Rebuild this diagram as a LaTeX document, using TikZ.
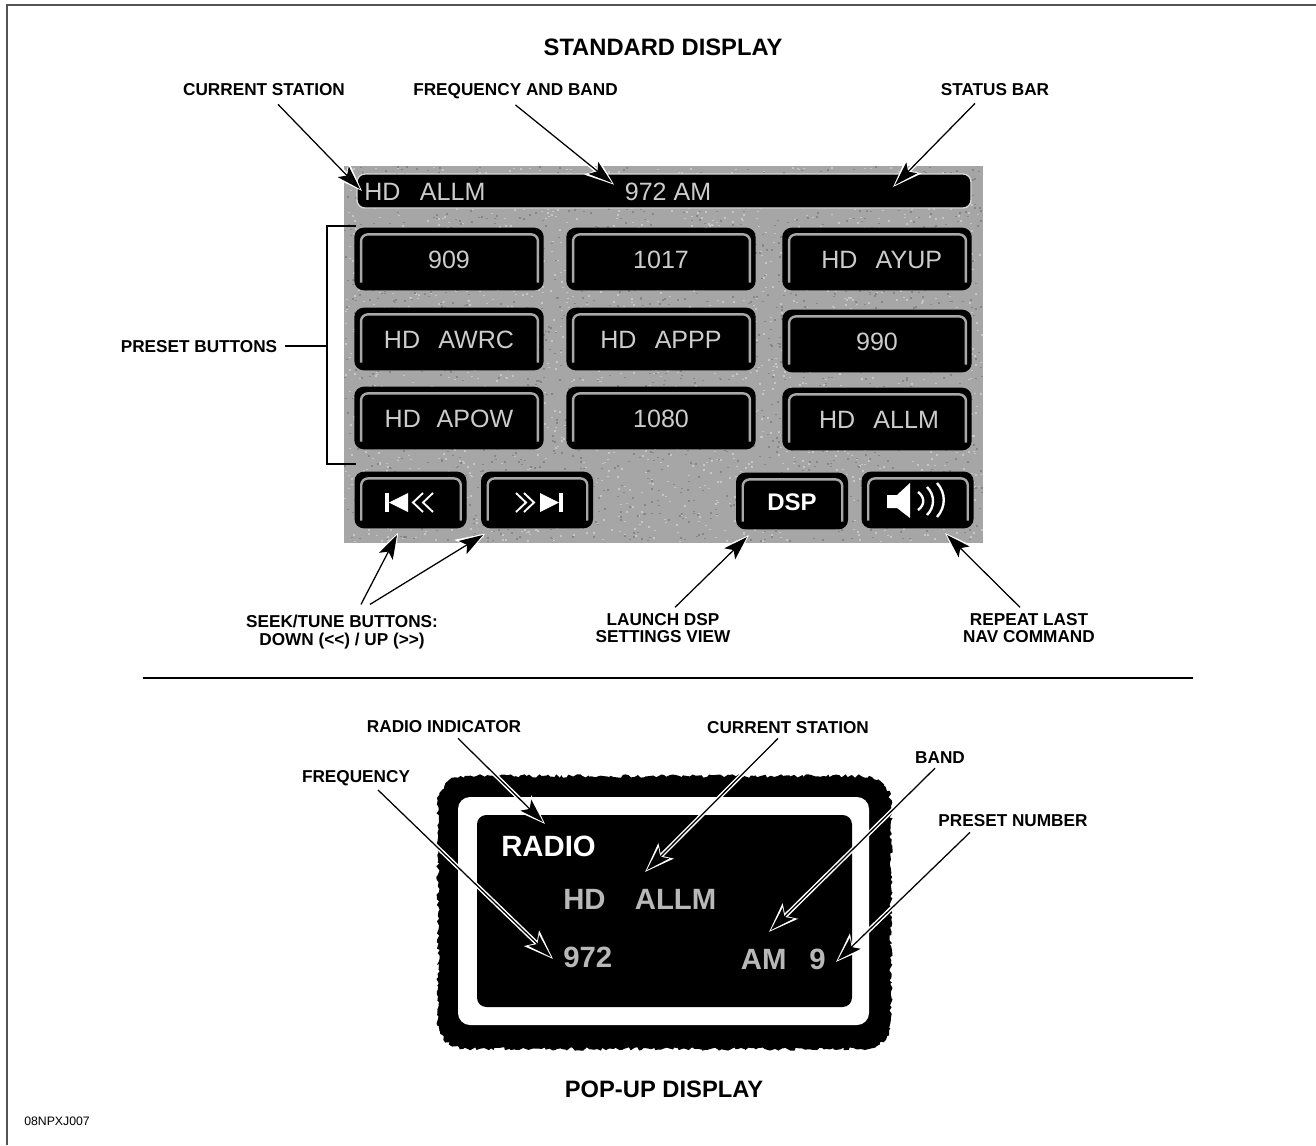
\documentclass[tikz,border=0pt]{standalone}
\usepackage{fontspec}
\setmainfont{Liberation Sans}
\usetikzlibrary{arrows.meta, calc, decorations.pathmorphing}
\tikzset{
	lbltext/.style={font=\fontsize{12.9}{14}\selectfont\bfseries, align=center, inner sep=0pt},
	titletext/.style={font=\fontsize{17.8}{20}\selectfont\bfseries, inner sep=0pt},
	codetext/.style={font=\fontsize{9.2}{11}\selectfont, inner sep=0pt}
}
\tikzset{
	btnbox/.style={fill=black, rounded corners=7pt, inner sep=0pt, text=btngray, text height=13.5pt, text depth=0pt,
		font=\fontsize{18.8}{20}\selectfont},
	presetbtn/.style={btnbox, minimum width=142pt, minimum height=47pt},
	smallbtn/.style={btnbox, minimum width=84pt, minimum height=42.5pt},
	btnlip/.style={draw=lipgray, line width=1.8pt, rounded corners=5pt},
	popuptext/.style={font=\fontsize{22}{24}\selectfont\bfseries, text=popgray, inner sep=0pt, text height=16pt, text depth=0pt}
}
\tikzset{
	callout/.style={line width=0.95pt, -{Stealth[length=18pt,width=11.5pt,inset=4pt]},
		preaction={draw=white, line width=3.2pt, shorten >=-2pt, -{Stealth[length=22pt,width=16pt,inset=5pt]}}},
	thinline/.style={line width=1.1pt},
	framerule/.style={draw=framegray, line width=1.5pt}
}
\definecolor{btngray}{gray}{0.80}
\definecolor{lipgray}{gray}{0.66}
\definecolor{popgray}{gray}{0.72}
\definecolor{panelgray}{gray}{0.65}
\definecolor{framegray}{gray}{0.33}
% draws the gray inner line of a button, open at the bottom
\newcommand{\btnedge}[1]{
	\draw[btnlip] ($(#1.south west)+(7,-8)$) -- ($(#1.north west)+(7,7)$) -- ($(#1.north east)+(-6,7)$) -- ($(#1.south east)+(-6,-8)$);
}
\begin{document}
\begin{tikzpicture}[x=0.75pt, y=-0.75pt]
	\useasboundingbox (0,0) rectangle (1316,1145);
	\draw[framerule] (7,1145) -- (7,5) -- (1316,5);

	\node[titletext] (titlestd) at (663,47) {STANDARD DISPLAY};
	\node[titletext] (titlepop) at (664,1089) {POP-UP DISPLAY};
	\node[codetext] (figcode) at (57,1121) {08NPXJ007};

	% gray panel with speckle
	\fill[panelgray] (344,166) rectangle (983,543);
	\pgfmathsetseed{42}
	\foreach \i in {1,...,1800}{
		\pgfmathsetmacro{\px}{344+rnd*637}
		\pgfmathsetmacro{\py}{166+rnd*375}
		\fill[gray!45] (\px,\py) rectangle ++(2,1.5);
	}
	\foreach \i in {1,...,1800}{
		\pgfmathsetmacro{\px}{344+rnd*637}
		\pgfmathsetmacro{\py}{166+rnd*375}
		\fill[gray!95] (\px,\py) rectangle ++(2,1.5);
	}

	% status bar
	\draw[fill=black, draw=gray!30, line width=1pt, rounded corners=6pt] (357,174) rectangle (971,208);
	\node[btnbox, fill=none, anchor=west, text=btngray] (barstation) at (364,191) {HD\hspace{0.5em} ALLM};
	\node[btnbox, fill=none, text=btngray] (barfreq) at (668,191) {972 AM};

	% preset buttons
	\node[presetbtn] (btnA) at (449,259) {909};
	\node[presetbtn] (btnB) at (661,259) {1017};
	\node[presetbtn] (btnC) at (877,259) {\hspace{7pt}HD\hspace{0.45em} AYUP};
	\node[presetbtn] (btnD) at (449,339) {HD\hspace{0.45em} AWRC\hspace{3pt}};
	\node[presetbtn] (btnE) at (661,339) {HD\hspace{0.45em} APPP};
	\node[presetbtn] (btnF) at (877,341) {990};
	\node[presetbtn] (btnG) at (449,418) {HD\hspace{0.35em} APOW};
	\node[presetbtn] (btnH) at (661,418) {1080};
	\node[presetbtn] (btnI) at (877,419) {\hspace{3pt}HD\hspace{0.45em} ALLM};
	\foreach \b in {btnA,btnB,btnC,btnD,btnE,btnF,btnG,btnH,btnI}{\btnedge{\b}}

	% bottom row
	\node[smallbtn] (btndown) at (410.5,500) {};
	\node[smallbtn] (btnup) at (537,500) {};
	\node[smallbtn, text=white, font=\fontsize{18}{20}\selectfont\bfseries] (btndsp) at (792,501) {DSP};
	\node[smallbtn] (btnspk) at (917.5,500) {};
	\foreach \b in {btndown,btnup,btndsp,btnspk}{\btnedge{\b}}

	% seek and speaker icons
	\fill[white] (385,493) rectangle (389,512);
	\fill[white] (389,502.5) -- (408,493) -- (408,512) -- cycle;
	\draw[white, line width=1.4pt] (423,493) -- (413,502.5) -- (423,512) (433,493) -- (423,502.5) -- (433,512);
	\draw[white, line width=1.4pt] (516,493) -- (526,502.5) -- (516,512) (524,493) -- (534,502.5) -- (524,512);
	\fill[white] (559,502.5) -- (540,493) -- (540,512) -- cycle;
	\fill[white] (559,493) rectangle (563,512);
	\fill[white] (887,495) -- (897,495) -- (910,483) -- (910,518) -- (897,508) -- (887,508) -- cycle;
	\draw[white, line width=1.8pt] (918,492) .. controls (925,497) and (925,505) .. (918,510);
	\draw[white, line width=1.8pt] (927,487) .. controls (935,495) and (935,507) .. (927,515);
	\draw[white, line width=1.8pt] (937,483) .. controls (946,493) and (946,507) .. (937,517);

	% pop-up display
	\pgfmathsetseed{7}
	\fill[black, decorate, decoration={random steps, segment length=2pt, amplitude=1.3pt}]
		(468,776) -- (861,776) .. controls (880,776) and (891,787) .. (891,806) -- (891,1019)
		.. controls (891,1038) and (880,1049) .. (861,1049) -- (468,1049)
		.. controls (449,1049) and (438,1038) .. (438,1019) -- (438,806)
		.. controls (438,787) and (449,776) .. (468,776) -- cycle;
	\fill[white, rounded corners=9pt] (458,797) rectangle (869,1025);
	\fill[black, rounded corners=7pt] (477,815) rectangle (852,1007);
	\node[popuptext, text=white, anchor=west] (popradio) at (501,846) {RADIO};
	\node[popuptext, anchor=west] (popstation) at (563,899) {HD\hspace{0.72em} ALLM};
	\node[popuptext, anchor=west] (popfreq) at (563,957) {972};
	\node[popuptext, anchor=east] (popband) at (826,959) {AM\hspace{0.5em} 9};

	% labels
	\node[lbltext] (lblstation) at (264,90) {CURRENT STATION};
	\node[lbltext] (lblfreqband) at (515.5,91) {FREQUENCY AND BAND};
	\node[lbltext] (lblstatus) at (995,90) {STATUS BAR};
	\node[lbltext] (lblpreset) at (199,347) {PRESET BUTTONS};
	\node[lbltext] (lblseek) at (342,632) {SEEK/TUNE BUTTONS:\\[0pt]DOWN (<{}<) / UP (>{}>)};
	\node[lbltext] (lbldsp) at (663,628) {LAUNCH DSP\\[-1.5pt]SETTINGS VIEW};
	\node[lbltext] (lblrepeat) at (1029,628) {REPEAT LAST\\[-1.5pt]NAV COMMAND};
	\node[lbltext] (lblradio) at (444,727) {RADIO INDICATOR};
	\node[lbltext] (lblstation2) at (788,728) {CURRENT STATION};
	\node[lbltext] (lblfreq) at (356,778) {FREQUENCY};
	\node[lbltext] (lblband) at (940,758) {BAND};
	\node[lbltext] (lblpresetno) at (1013,821) {PRESET NUMBER};

	% arrow ends
	\coordinate (tipstation) at (360,189);
	\coordinate (tipfreqband) at (612,183);
	\coordinate (tipstatus) at (895,185);
	\coordinate (tipdown) at (397,535);
	\coordinate (tipup) at (483,535);
	\coordinate (tipdsp) at (747,537);
	\coordinate (tiprepeat) at (947,535);
	\coordinate (tipradio) at (543,822);
	\coordinate (tipstation2) at (647,870);
	\coordinate (tipfreq) at (551,957);
	\coordinate (tipband) at (771,930);
	\coordinate (tippresetno) at (838,960);

	\draw[callout] ($(lblstation.south)+(14,8)$) -- (tipstation);
	\draw[callout] ($(lblfreqband.south)+(0,6)$) -- (tipfreqband);
	\draw[callout] ($(lblstatus.south)+(-20,7)$) -- (tipstatus);
	\draw[callout] ($(lblseek.north)+(19,-10)$) -- (tipdown);
	\draw[callout] ($(lblseek.north)+(28,-10)$) -- (tipup);
	\draw[callout] ($(lbldsp.north)+(12,-6)$) -- (tipdsp);
	\draw[callout] ($(lblrepeat.north)+(-9,-6)$) -- (tiprepeat);
	\draw[callout] ($(lblradio.south)+(14,5)$) -- (tipradio);
	\draw[callout] ($(lblstation2.south)+(-10,4)$) -- (tipstation2);
	\draw[callout] ($(lblfreq.south)+(22,4)$) -- (tipfreq);
	\draw[callout] ($(lblband.south)+(-5,4)$) -- (tipband);
	\draw[callout] ($(lblpresetno.south)+(-43,5)$) -- (tippresetno);

	% bracket and divider
	\coordinate (brkttop) at (356,226);
	\coordinate (brktbot) at (356,464);
	\coordinate (brktmid) at (327,346);
	\draw[thinline] (brkttop) -- (brkttop -| brktmid) -- (brktbot -| brktmid) -- (brktbot);
	\draw[thinline] ($(lblpreset.east)+(8,-1)$) -- (brktmid);
	\coordinate (divleft) at (143,678);
	\coordinate (divright) at (1193,678);
	\draw[thinline] (divleft) -- (divright);
\end{tikzpicture}
\end{document}
